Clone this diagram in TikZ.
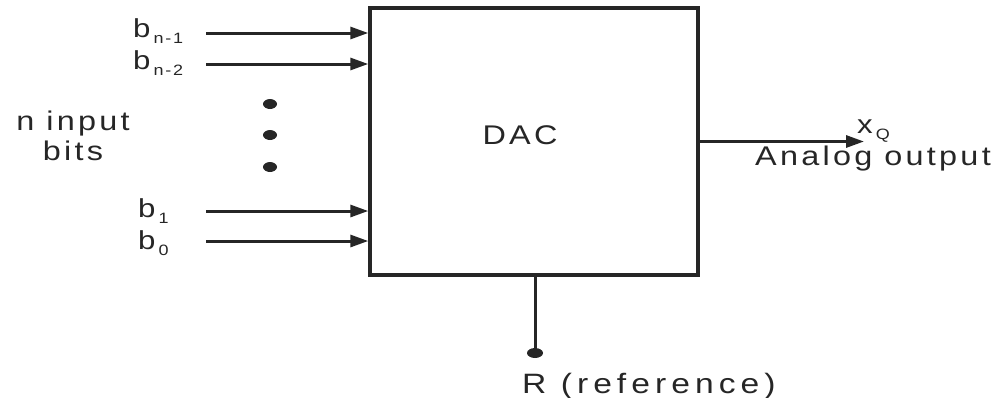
\documentclass[tikz,border=0pt]{standalone}
\usepackage{fontspec}
\setmainfont{Liberation Sans}[FakeStretch=1.2,LetterSpace=12]
\usetikzlibrary{arrows.meta}
\newcommand{\sbs}[1]{\hspace{3pt}\raisebox{-0.45ex}{\fontsize{15}{17}\selectfont #1}}
\begin{document}
\begin{tikzpicture}[x=1pt,y=-1pt,
  wire/.style={line width=3pt,draw=black!85},
  inarrow/.style={wire,-{Triangle[length=18pt,width=12pt]}},
  lbl/.style={inner sep=0pt,font=\fontsize{26}{30}\selectfont,text=black!85},
  blob/.style={fill=black!85}]
\useasboundingbox (0,0) rectangle (1001,397);
\node[draw=black!85,line width=3.4pt,minimum width=328pt,minimum height=267pt,inner sep=0pt] (dac) at (534,141.5) {};
\node[lbl,font=\fontsize{27}{30}\selectfont] (daclbl) at (520,135) {DAC};
% inputs
\coordinate (i1) at (206,33);
\coordinate (i2) at (206,64);
\coordinate (i3) at (206,211);
\coordinate (i4) at (206,241);
\foreach \c in {i1,i2,i3,i4} \draw[inarrow] (\c) -- (\c -| dac.west);
\node[lbl,anchor=base west] (b1) at (133,37) {b\sbs{n-1}};
\node[lbl,anchor=base west] (b2) at (133,69) {b\sbs{n-2}};
\node[lbl,anchor=base west] (b3) at (138,217) {b\sbs{1}};
\node[lbl,anchor=base west] (b4) at (138,249) {b\sbs{0}};
\node[lbl,align=center,font=\fontsize{27}{30}\selectfont] (nib) at (73,136) {n input\\bits};
% dots
\foreach \y/\n in {104/d1,135/d2,167/d3} \fill[blob] (270,\y) ellipse (7pt and 5pt) coordinate (\n);
% output
\coordinate (o) at (864,141.5);
\draw[inarrow] (dac.east) -- (o);
\node[lbl,anchor=base west] (xq) at (857,133) {x\sbs{Q}};
\node[lbl,anchor=base west,font=\fontsize{27}{30}\selectfont] (ao) at (755,165) {Analog output};
% reference
\coordinate (r) at (535,353);
\draw[wire] (dac.south -| r) -- (r);
\fill[blob] (r) ellipse (8pt and 5pt);
\node[lbl,anchor=base west,font=\fontsize{28}{30}\selectfont\addfontfeature{LetterSpace=18}] (ref) at (522,393) {R (reference)};
\end{tikzpicture}
\end{document}
